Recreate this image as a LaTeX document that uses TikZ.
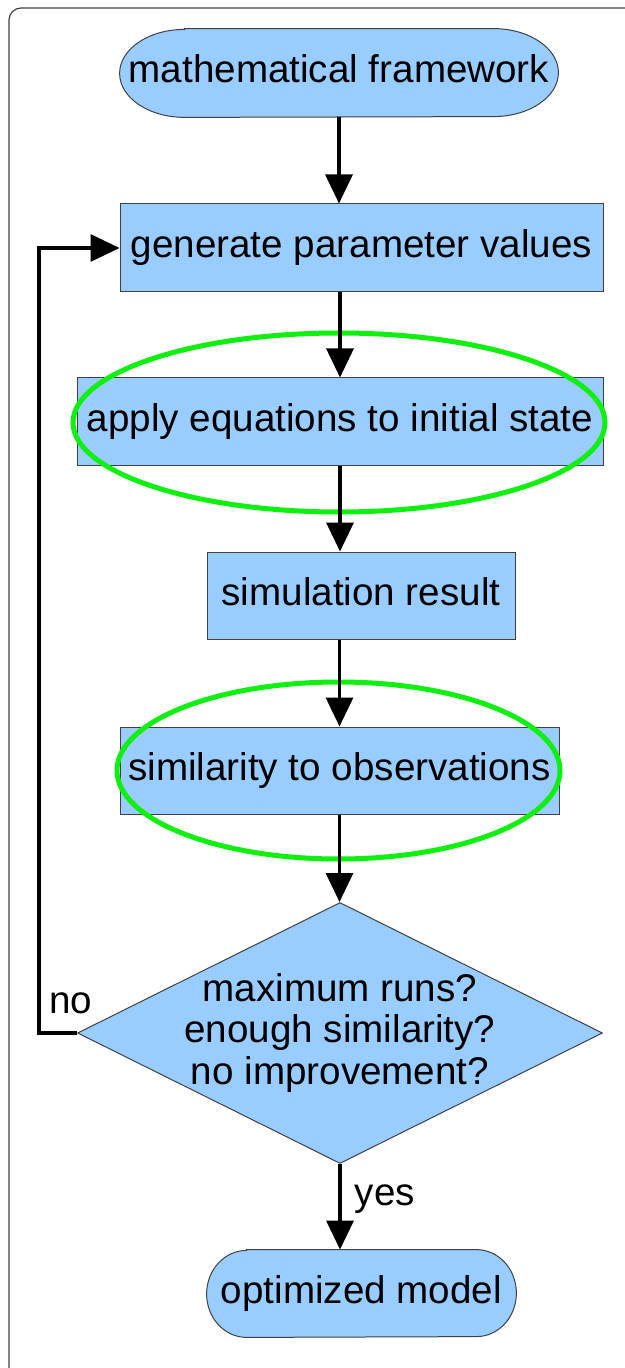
\documentclass[tikz,border=0pt]{standalone}
\usepackage{fontspec}
\setmainfont{Liberation Sans}
\usetikzlibrary{arrows.meta,shapes.geometric,backgrounds}
\definecolor{boxfill}{HTML}{99CCFF}
\definecolor{hlgreen}{RGB}{16,240,16}
\definecolor{edge}{gray}{0.25}

% terminal shape: flat top and bottom, elliptical ends
% #1 node name, #2 horizontal end radius, #3 half height
\newcommand\stadiumoutline[3]{%
  \filldraw[fill=boxfill, draw=edge, line width=0.5pt]
    ([xshift=#2]#1.north west) -- ([xshift=-#2]#1.north east)
    arc[start angle=90, end angle=-90, x radius=#2, y radius=#3]
    -- ([xshift=#2]#1.south west)
    arc[start angle=270, end angle=90, x radius=#2, y radius=#3] -- cycle;}

\begin{document}
\begin{tikzpicture}[x=0.5pt, y=-0.5pt,
  every node/.style={font=\fontsize{19.3}{20.8}\selectfont, inner sep=0pt},
  lbl/.style={text height=14pt, text depth=4pt},
  stepbox/.style={rectangle, draw=edge, line width=0.5pt, fill=boxfill, lbl},
  terminal/.style={rectangle, lbl},
  decision/.style={diamond, draw=edge, line width=0.5pt, fill=boxfill},
  hl/.style={ellipse, draw=hlgreen, line width=2.5pt},
  arr/.style={line width=1.6pt, -{Triangle[length=14.5pt, width=13.5pt]}}]

\useasboundingbox (0,0) rectangle (625,1368);

% frame
\draw[edge, line width=0.6pt, rounded corners=6pt] (9,1368) -- (9,8) -- (625,8);

% flow steps
\node[terminal, minimum width=219pt, minimum height=44pt] (start) at (339,73) {mathematical framework};
\node[stepbox, minimum width=241.5pt, minimum height=44pt] (gen) at (361.5,248) {generate parameter values};
\node[stepbox, minimum width=263pt, minimum height=44pt] (apply) at (340,422) {apply equations to initial state};
\node[stepbox, minimum width=154pt, minimum height=43.5pt] (sim) at (361,595.5) {simulation result};
\node[stepbox, minimum width=219.5pt, minimum height=43.5pt] (simil) at (339.5,770.5) {similarity to observations};
\node[decision, minimum width=262.5pt, minimum height=130.5pt] (dec) at (340,1033) {};
\node[align=center] (dectext) at (dec.center) {maximum runs?\\enough similarity?\\no improvement?};
\node[terminal, minimum width=154.5pt, minimum height=43.5pt] (finish) at (361.5,1293.5) {optimized model};

\begin{scope}[on background layer]
  \stadiumoutline{start}{32.5pt}{22pt}
  \stadiumoutline{finish}{20pt}{21.75pt}
\end{scope}

% highlighted steps
\node[hl, minimum width=266pt, minimum height=89.5pt] (hlapply) at (339,422.5) {};
\node[hl, minimum width=221.5pt, minimum height=88.5pt] (hlsimil) at (338.5,770.5) {};

% connectors
\draw[arr] (start.south) -- (start.south |- gen.north);
\draw[arr] (gen.south -| apply.north) -- (apply.north);
\draw[arr] (apply.south) -- (apply.south |- sim.north);
\draw[arr] (sim.south -| simil.north) -- (simil.north);
\draw[arr] (simil.south) -- (simil.south |- dec.north);
\draw[arr] (dec.south) -- (dec.south |- finish.north);
\draw[arr] (dec.west) -- ++(-38,0) |- (gen.west);

% branch labels
\node[lbl] (nolabel) at (71,1003) {no};
\node[lbl] (yeslabel) at (385,1195) {yes};
\end{tikzpicture}
\end{document}
